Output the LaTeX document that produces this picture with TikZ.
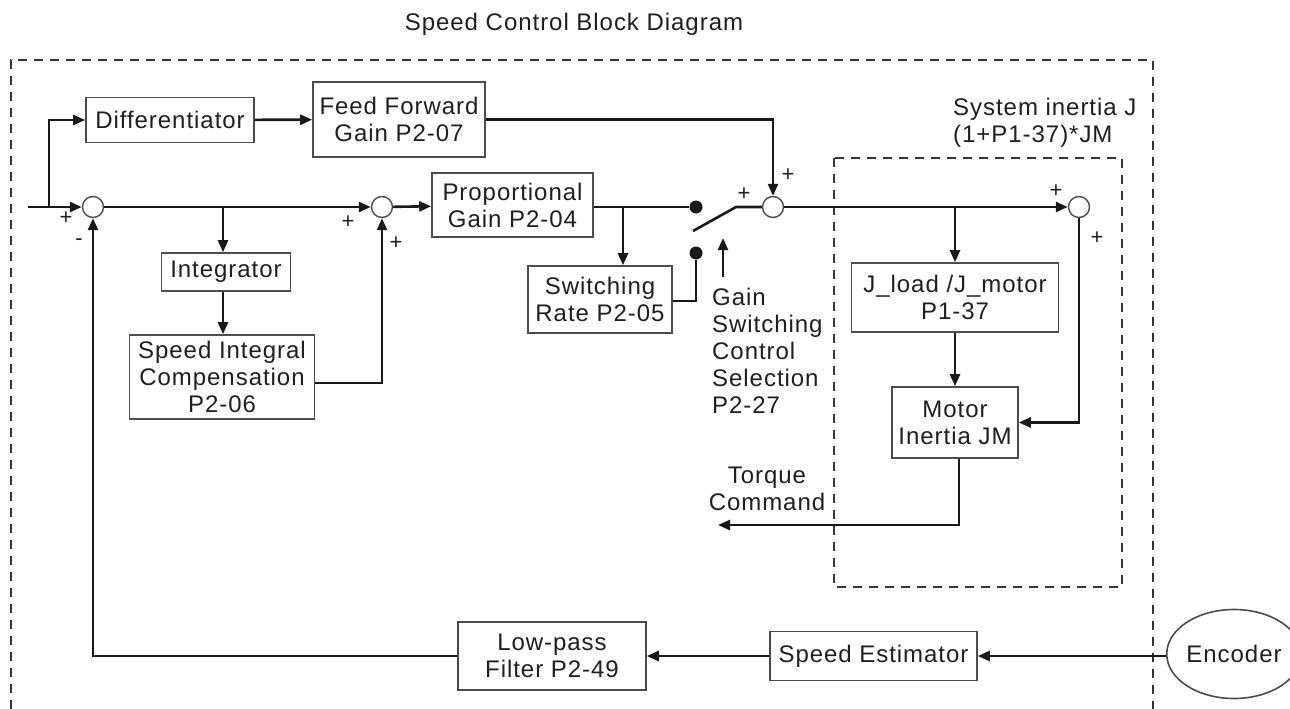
\documentclass[tikz,border=0pt]{standalone}
\usepackage{fontspec}
\setmainfont{Liberation Sans}[LetterSpace=4]
\usetikzlibrary{arrows.meta,shapes.geometric}
\begin{document}
\begin{tikzpicture}[x=1pt,y=-1pt,
 font=\fontsize{24}{27}\selectfont,
 blk/.style={draw=black!70,line width=1.6pt,inner sep=0pt,align=center,text=black!88},
 sumj/.style={circle,draw=black!70,line width=1.4pt,minimum size=21pt,inner sep=0pt,fill=white},
 dotj/.style={circle,fill=black!90,minimum size=13pt,inner sep=0pt},
 conn/.style={line width=2.6pt,draw=black!90},
 arr/.style={conn,-{Triangle[length=12pt,width=10pt]}},
 dbox/.style={draw=black!80,line width=2.1pt,dash pattern=on 9pt off 7pt},
 lbl/.style={text=black!88,inner sep=0pt},
 sgn/.style={font=\fontsize{22}{22}\selectfont,inner sep=0pt,text=black!88}]
\useasboundingbox (0,0) rectangle (1290,709);
\fill[white] (0,0) rectangle (1290,709);

\node[lbl] (title) at (574,24) {Speed Control Block Diagram};

\draw[dbox] (11,709) -- (11,60) -- (1153,60) -- (1153,709);
\draw[dbox] (834,158) rectangle (1122,587);

\node[blk,minimum width=168pt,minimum height=45pt] (diff) at (170,120) {Differentiator};
\node[blk,minimum width=172pt,minimum height=75pt] (ff) at (399,119.5) {Feed Forward\\Gain P2-07};
\node[sumj] (s1) at (93,207) {};
\node[blk,minimum width=129pt,minimum height=38pt] (integ) at (226,272) {Integrator};
\node[blk,minimum width=185pt,minimum height=84pt] (sic) at (222,377) {Speed Integral\\Compensation\\P2-06};
\node[sumj] (s2) at (382,207) {};
\node[blk,minimum width=161pt,minimum height=64pt] (prop) at (512.5,205) {Proportional\\Gain P2-04};
\node[blk,minimum width=144pt,minimum height=67pt] (swr) at (600,299.5) {Switching\\Rate P2-05};
\node[dotj] (d1) at (696,207) {};
\node[dotj] (d2) at (696,253) {};
\node[sumj] (s3) at (773,207) {};
\node[sumj] (s4) at (1079,207) {};
\node[blk,minimum width=207pt,minimum height=69pt] (jl) at (955,297.5) {J\_load /J\_motor\\P1-37};
\node[blk,minimum width=126pt,minimum height=71pt] (mot) at (955,422.5) {Motor\\Inertia JM};
\node[blk,minimum width=188pt,minimum height=68pt] (lpf) at (552,656) {Low-pass\\Filter P2-49};
\node[blk,minimum width=207pt,minimum height=49pt] (se) at (873.5,656) {Speed Estimator};
\node[blk,ellipse,minimum width=112pt,minimum height=89pt] (enc) at (1234,654) {Encoder};

\coordinate (in) at (28,207);
\coordinate (br0) at (49,207);
\coordinate (lv0) at (693,231);
\coordinate (lv1) at (736,207);
\coordinate (g0) at (723,277);
\coordinate (g1) at (723,238);
\coordinate (tq) at (718,525);

\draw[arr] (in) -- (s1.west);
\draw[arr] (br0) |- (diff.west);
\draw[arr] (diff) -- (ff);
\draw[arr] (ff.east) -| (s3.north);
\draw[arr] (s1) -- (s2);
\draw[arr] ([xshift=-3pt]integ.north |- s1) -- ([xshift=-3pt]integ.north);
\draw[arr] ([xshift=-3pt]integ.south) -- ([xshift=-3pt]integ.south |- sic.north);
\draw[arr] ([yshift=-6pt]sic.east) -| (s2.south);
\draw[arr] (s2) -- (prop);
\draw[conn] (prop.east |- d1) -- (d1);
\draw[arr] ([xshift=23pt]swr.north |- d1) -- ([xshift=23pt]swr.north);
\draw[conn] ([yshift=-1.5pt]swr.east) -| (d2);
\draw[conn] (lv0) -- (lv1) -- (s3.west);
\draw[arr] (g0) -- (g1);
\draw[arr] (s3) -- (s4);
\draw[arr] (jl.north |- s3) -- (jl.north);
\draw[arr] (jl) -- (mot);
\draw[arr] (s4.south) |- (mot.east);
\draw[arr] ([xshift=4pt]mot.south) |- (tq);
\draw[arr] (enc.west |- se.east) -- (se.east);
\draw[arr] (se) -- (lpf);
\draw[arr] (lpf.west) -| (s1.south);

\node[sgn] (p1) at (66,218) {+};
\node[sgn] (m1) at (79,242) {-};
\node[sgn] (p2) at (348,222) {+};
\node[sgn] (p3) at (396,243) {+};
\node[sgn] (p4) at (744,194) {+};
\node[sgn] (p5) at (788,175) {+};
\node[sgn] (p6) at (1056,191) {+};
\node[sgn] (p7) at (1097,238) {+};

\node[lbl,align=left,anchor=north west] (gsc) at (712,288) {Gain\\Switching\\Control\\Selection\\P2-27};
\node[lbl,align=left,anchor=north west] (sij) at (953,98) {System inertia J\\(1+P1-37)*JM};
\node[lbl,align=center] (tc) at (767,489) {Torque\\Command};
\end{tikzpicture}
\end{document}
